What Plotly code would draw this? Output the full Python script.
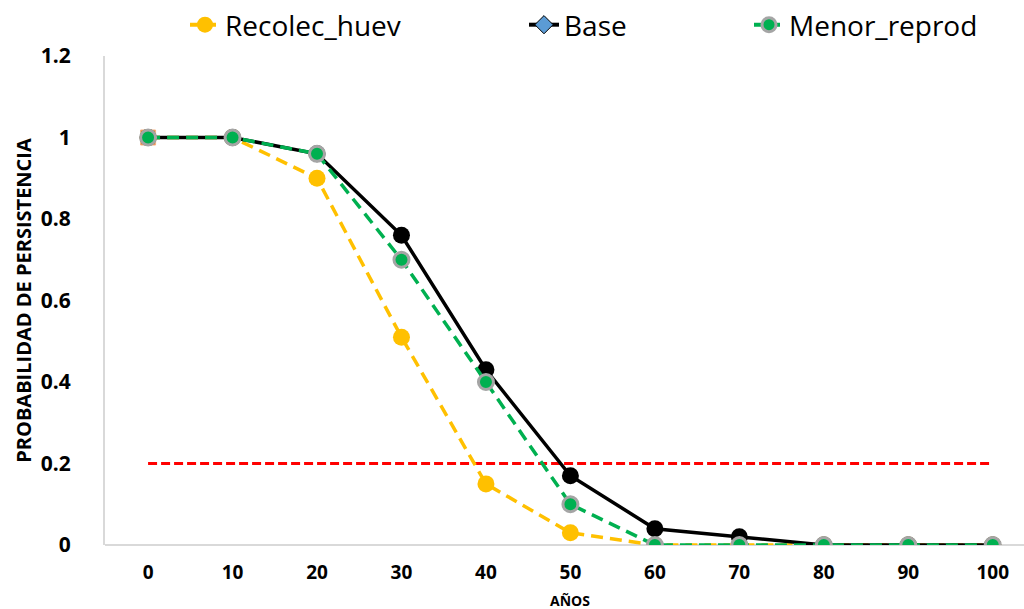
import plotly.graph_objects as go

years = [0, 10, 20, 30, 40, 50, 60, 70, 80, 90, 100]
recolec_huev = [1, 1, 0.90, 0.51, 0.15, 0.03, 0, 0, 0, 0, 0]
base = [1, 1, 0.96, 0.76, 0.43, 0.17, 0.04, 0.02, 0, 0, 0]
menor_reprod = [1, 1, 0.96, 0.70, 0.40, 0.10, 0, 0, 0, 0, 0]
umbral = [0.2] * len(years)
y_ticks = [0, 0.2, 0.4, 0.6, 0.8, 1, 1.2]
y_ticktext = ["0", "0.2", "0.4", "0.6", "0.8", "1", "1.2"]

fig = go.Figure()

# threshold line
fig.add_trace(go.Scatter(x=years, y=umbral, mode="lines",
                         line=dict(color="#FF0000", width=3, dash="9px,4px"),
                         showlegend=False, hoverinfo="skip"))
# first-point square marker
fig.add_trace(go.Scatter(x=years[:1], y=base[:1], mode="markers",
                         marker=dict(symbol="square", size=15, color="#ED7D31",
                                     line=dict(color="#F4B183", width=1)),
                         showlegend=False))
fig.add_trace(go.Scatter(x=years, y=recolec_huev, mode="lines+markers",
                         line=dict(color="#FFC000", width=3.5, dash="12px,7px"),
                         marker=dict(symbol="circle", size=17, color="#FFC000"),
                         showlegend=False))
fig.add_trace(go.Scatter(x=years, y=base, mode="lines+markers",
                         line=dict(color="#000000", width=3.5),
                         marker=dict(symbol="circle", size=17, color="#000000"),
                         showlegend=False))
fig.add_trace(go.Scatter(x=years, y=menor_reprod, mode="lines+markers",
                         line=dict(color="#00B050", width=3.5, dash="12px,7px"),
                         marker=dict(symbol="circle", size=15, color="#00B050",
                                     line=dict(color="#A5A5A5", width=3)),
                         showlegend=False))

# legend entries (one legend each, to place them like the original)
fig.add_trace(go.Scatter(x=[None], y=[None], mode="lines+markers", name="Recolec_huev",
                         legend="legend",
                         line=dict(color="#FFC000", width=4, dash="10px,6px"),
                         marker=dict(symbol="circle", size=16, color="#FFC000")))
fig.add_trace(go.Scatter(x=[None], y=[None], mode="lines+markers", name="Base",
                         legend="legend2",
                         line=dict(color="#000000", width=4),
                         marker=dict(symbol="diamond", size=14, color="#5B9BD5",
                                     line=dict(color="#000000", width=1))))
fig.add_trace(go.Scatter(x=[None], y=[None], mode="lines+markers", name="Menor_reprod",
                         legend="legend3",
                         line=dict(color="#00B050", width=4, dash="10px,6px"),
                         marker=dict(symbol="circle", size=14, color="#00B050",
                                     line=dict(color="#A5A5A5", width=3))))

leg_common = dict(orientation="h", yref="container", y=1.0, yanchor="top",
                  xref="container", xanchor="left",
                  font=dict(size=28), bgcolor="rgba(0,0,0,0)")

fig.update_layout(
    width=1024, height=609,
    margin=dict(l=105, r=0, t=56, b=64, autoexpand=False),
    paper_bgcolor="white", plot_bgcolor="white",
    font=dict(family="Open Sans, DejaVu Sans, sans-serif", color="#000000"),
    showlegend=True,
    legend=dict(x=185 / 1024, **leg_common),
    legend2=dict(x=524 / 1024, **leg_common),
    legend3=dict(x=749 / 1024, **leg_common),
    xaxis=dict(range=[-5.1, 103.7], tickmode="array", tickvals=years,
               ticktext=[str(v) for v in years], showgrid=False, zeroline=False,
               showline=False, ticks="", ticklabelstandoff=14,
               tickfont=dict(size=19, weight="bold")),
    yaxis=dict(range=[0, 1.2], tickmode="array", tickvals=y_ticks,
               ticktext=y_ticktext,
               showgrid=False, zeroline=True, zerolinecolor="#D9D9D9", zerolinewidth=2,
               showline=True, linecolor="#D9D9D9", linewidth=2, ticks="",
               ticklabelstandoff=28,
               tickfont=dict(size=21, weight="bold"),
               title=dict(text="PROBABILIDAD DE PERSISTENCIA",
                          font=dict(size=20, weight="bold"), standoff=4)),
    annotations=[dict(text="AÑOS", x=50, xref="x", y=0, yref="paper",
                      yanchor="top", yshift=-44, showarrow=False,
                      font=dict(size=14, weight="bold"))],
)

fig.write_html("out.html")
